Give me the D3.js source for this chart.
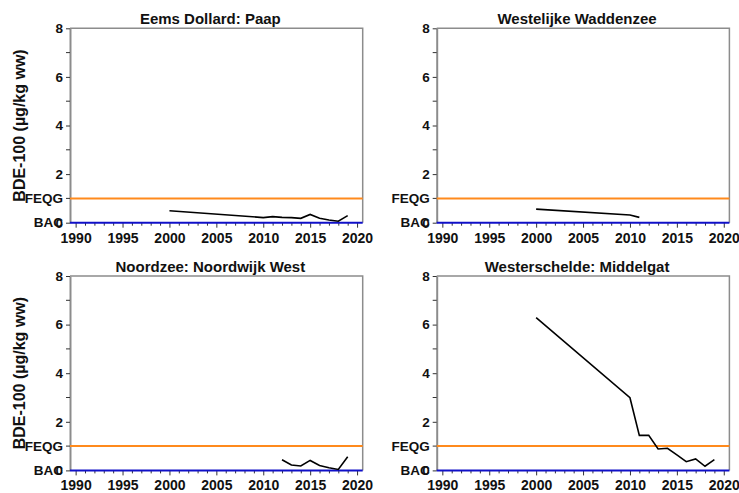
<!DOCTYPE html>
<html>
<head>
<meta charset="utf-8">
<script src="https://cdn.jsdelivr.net/npm/d3@7"></script>
<style>
  body { margin: 0; background: #fff; }
  text { font-family: "Liberation Sans", Arial, sans-serif; font-weight: bold; }
</style>
</head>
<body>
<svg id="chart" width="739" height="493"></svg>
<script>
// station titles
var titles = ["Eems Dollard: Paap", "Westelijke Waddenzee", "Noordzee: Noordwijk West", "Westerschelde: Middelgat"];

// measured series (year, µg/kg ww)
var yearsPaap = [2000, 2010, 2011, 2012, 2013, 2014, 2015, 2016, 2017, 2018, 2019];
var valuesPaap = [0.49, 0.21, 0.25, 0.22, 0.21, 0.18, 0.34, 0.18, 0.11, 0.06, 0.29];

var yearsWadden = [2000, 2010, 2011];
var valuesWadden = [0.56, 0.32, 0.22];

var yearsNoordwijk = [2012, 2013, 2014, 2015, 2016, 2017, 2018, 2019];
var valuesNoordwijk = [0.44, 0.22, 0.18, 0.41, 0.20, 0.11, 0.04, 0.56];

var yearsMiddelgat = [2000, 2010, 2011, 2012, 2013, 2014, 2015, 2016, 2017, 2018, 2019];
var valuesMiddelgat = [6.29, 2.99, 1.44, 1.44, 0.88, 0.91, 0.64, 0.36, 0.47, 0.17, 0.44];

// reference levels
var feqg = 1.0;
var bac = 0.0;

var yTickLabels = [0, 2, 4, 6, 8];
var yMinorTicks = [1, 3, 5, 7];

var series = [
    {years: yearsPaap, values: valuesPaap},
    {years: yearsWadden, values: valuesWadden},
    {years: yearsNoordwijk, values: valuesNoordwijk},
    {years: yearsMiddelgat, values: valuesMiddelgat}
];

// panel positions
var lefts = [70, 436.7];
var tops = [28.3, 276];
var plotW = 292.7;
var plotH = 194.4;

var svg = d3.select('#chart');

var allYears = d3.range(1990, 2021);

series.forEach(function(s, i) {
    var col = i % 2;
    var row = Math.floor(i / 2);
    var g = svg.append('g')
        .attr('transform', 'translate(' + lefts[col] + ',' + tops[row] + ')');

    var x = d3.scaleLinear().domain([1989.4, 2020.6]).range([0, plotW]);
    var y = d3.scaleLinear().domain([0, 8]).range([plotH, 0]);

    // box: top and right
    g.append('path')
        .attr('d', 'M0,0H' + plotW + 'V' + plotH)
        .attr('fill', 'none')
        .attr('stroke', '#8c8c8c')
        .attr('stroke-width', 1.5);

    // y axis with labels
    var yAxis = g.append('g')
        .call(d3.axisLeft(y).tickValues(yTickLabels).tickSize(4).tickPadding(3).tickSizeOuter(0));
    yAxis.select('.domain').attr('stroke', '#8c8c8c').attr('stroke-width', 2);
    yAxis.selectAll('.tick line').attr('stroke', '#333');
    yAxis.selectAll('text').attr('font-size', 13.5).attr('fill', '#111')
        .style('font-family', '"Liberation Sans", Arial, sans-serif').style('font-weight', 'bold');

    // minor y ticks
    g.append('g').selectAll('line')
        .data(yMinorTicks)
        .enter().append('line')
        .attr('x1', -4).attr('x2', 0)
        .attr('y1', function(d) { return y(d); })
        .attr('y2', function(d) { return y(d); })
        .attr('stroke', '#333');

    // reference labels
    g.append('text')
        .attr('x', -7).attr('y', y(feqg)).attr('dy', '0.35em')
        .attr('text-anchor', 'end').attr('font-size', 13.5).attr('fill', '#111')
        .text('FEQG');
    g.append('text')
        .attr('x', -7).attr('y', y(bac)).attr('dy', '0.35em')
        .attr('text-anchor', 'end').attr('font-size', 13.5).attr('fill', '#111')
        .text('BAC');

    // x axis
    var xAxis = g.append('g')
        .attr('transform', 'translate(0,' + plotH + ')')
        .call(d3.axisBottom(x).tickValues(allYears).tickSizeOuter(0)
            .tickFormat(function(d) { return d % 5 === 0 ? d : ''; }));
    xAxis.select('.domain').remove();
    xAxis.selectAll('.tick line')
        .attr('stroke', '#333')
        .attr('y2', function(d) { return d % 5 === 0 ? 5 : 3; });
    xAxis.selectAll('text').attr('font-size', 14).attr('fill', '#111').attr('y', 10)
        .style('font-family', '"Liberation Sans", Arial, sans-serif').style('font-weight', 'bold');

    // FEQG line
    g.append('line')
        .attr('x1', 0).attr('x2', plotW)
        .attr('y1', y(feqg)).attr('y2', y(feqg))
        .attr('stroke', '#ff8a1c').attr('stroke-width', 2);

    // BAC line
    g.append('line')
        .attr('x1', 0).attr('x2', plotW)
        .attr('y1', y(bac)).attr('y2', y(bac))
        .attr('stroke', '#1010c8').attr('stroke-width', 2);

    // data line
    var pts = s.years.map(function(yr, k) { return [yr, s.values[k]]; });
    g.append('path')
        .datum(pts)
        .attr('fill', 'none')
        .attr('stroke', '#000')
        .attr('stroke-width', 1.6)
        .attr('d', d3.line()
            .x(function(d) { return x(d[0]); })
            .y(function(d) { return y(d[1]); }));

    // title
    g.append('text')
        .attr('x', plotW / 2 - 6).attr('y', -4.3)
        .attr('text-anchor', 'middle').attr('font-size', 15).attr('fill', '#111')
        .text(titles[i]);

    // y label on left panels
    if (col === 0) {
        g.append('text')
            .attr('transform', 'translate(' + (25 - lefts[col]) + ',' + (plotH * 0.5) + ') rotate(-90)')
            .attr('text-anchor', 'middle').attr('font-size', 16).attr('fill', '#111')
            .text('BDE-100 (µg/kg ww)');
    }
});
</script>
</body>
</html>
